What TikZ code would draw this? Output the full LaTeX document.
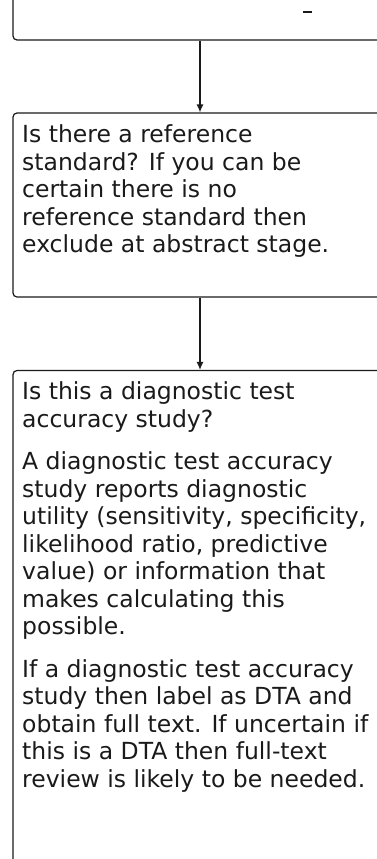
\documentclass[tikz,border=0pt]{standalone}
\usepackage{fontspec}
\setmainfont{DejaVu Sans}
\usetikzlibrary{arrows.meta}
\definecolor{ink}{HTML}{1A1A1A}
\tikzset{
  box/.style={draw=ink, line width=1.2pt, rounded corners=4pt, rectangle, inner sep=0pt, minimum width=374pt},
  txt/.style={anchor=north west, align=left, inner sep=0pt, text=ink, font=\fontsize{23.5}{27.5}\selectfont},
  conn/.style={draw=ink, line width=1.2pt, -{Latex[length=8pt,width=7pt]}}
}
\begin{document}
\begin{tikzpicture}[x=1pt,y=-1pt]
\useasboundingbox (0,0) rectangle (376,859);
% boxes
\node[box, minimum height=90pt] (b1) at (200,-5) {};
\node[box, minimum height=184pt] (b2) at (200,205) {};
\node[box, minimum height=560pt] (b3) at (200,650.5) {};
% fragment of text of the first box
\draw[ink, line width=1.6pt] (303,12) -- (312,12);
% texts
\node[txt] (t2) at (22,124.5) {Is there a reference\\standard? If you can be\\certain there is no\\reference standard then\\exclude at abstract stage.};
\node[txt] (t3) at (22,381.5) {Is this a diagnostic test\\accuracy study?\\[15pt]A diagnostic test accuracy\\study reports diagnostic\\utility (sensitivity, specificity,\\likelihood ratio, predictive\\value) or information that\\makes calculating this\\possible.\\[15pt]If a diagnostic test accuracy\\study then label as DTA and\\obtain full text. If uncertain if\\this is a DTA then full-text\\review is likely to be needed.};
% connectors
\draw[conn] (b1.south) -- (b2.north);
\draw[conn] (b2.south) -- (b3.north);
\end{tikzpicture}
\end{document}
